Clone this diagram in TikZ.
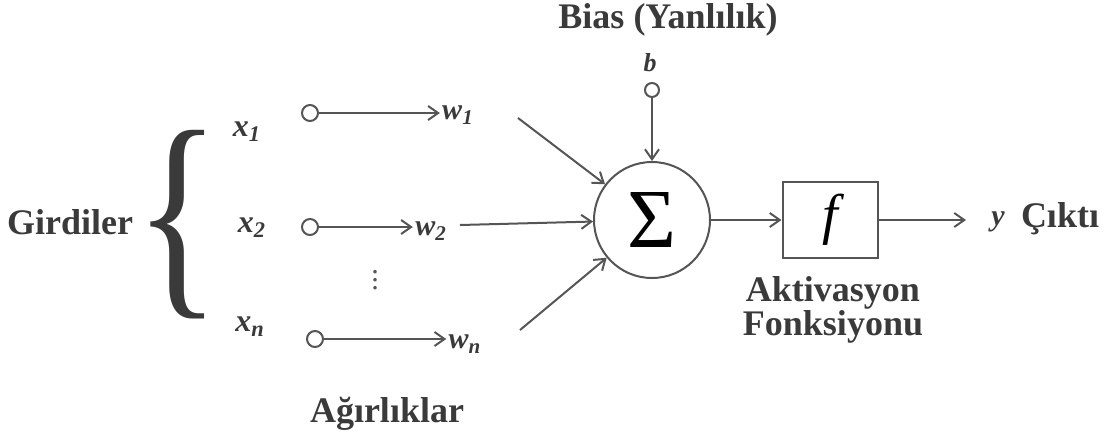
\documentclass[tikz,border=0pt]{standalone}
\usepackage{graphicx}
\usepackage{fontspec}
\setmainfont{Liberation Serif}
\usetikzlibrary{positioning, arrows.meta}
\definecolor{linegray}{HTML}{555555}
\definecolor{textgray}{HTML}{3A3A3A}
\tikzset{
  inpt/.style={circle, draw=linegray, line width=1pt, minimum size=8pt, inner sep=0pt},
  lbl/.style={text=textgray, inner sep=1pt, font=\fontsize{18}{15}\selectfont\bfseries},
  var/.style={text=textgray, inner sep=1pt, font=\fontsize{16}{18}\selectfont\bfseries\itshape},
  wvar/.style={var, font=\fontsize{15}{18}\selectfont\bfseries\itshape},
  wire/.style={draw=linegray, line width=1pt, -{Straight Barb[length=5pt,width=7pt]}},
}

\begin{document}
\begin{tikzpicture}[x=0.5pt, y=-0.5pt]
    \useasboundingbox (0,0) rectangle (1109,441);

    % inputs and brace
    \node[lbl] (inputs) at (70,222) {Girdiler};
    \node[text=textgray, inner sep=0pt] (brace) at (178,225)
        {\scalebox{1.5}[1.9]{\fontsize{60}{60}\selectfont\{}};

    \node[var] (x1) at (247,132) {x\textsubscript{1}};
    \node[var] (x2) at (252,228) {x\textsubscript{2}};
    \node[var] (xn) at (250,327) {x\textsubscript{n}};

    \node[inpt] (i1) at (310,113) {};
    \node[inpt] (i2) at (310,227) {};
    \node[inpt] (in) at (315,339) {};

    \node[wvar] (w1) at (458,115) {w\textsubscript{1}};
    \node[wvar] (w2) at (431,231) {w\textsubscript{2}};
    \node[wvar] (wn) at (465,344) {w\textsubscript{n}};
    \node[text=linegray, font=\fontsize{15}{15}\selectfont] (dots) at (375,274) {$\vdots$};

    \draw[wire] (i1) -- (i1 -| w1.west);
    \draw[wire] (i2) -- (i2 -| w2.west);
    \draw[wire] (in) -- (in -| wn.west);

    \node[lbl] (weights) at (387,414) {Ağırlıklar};

    % summation and bias
    \node[circle, draw=linegray, line width=1pt, minimum size=58pt, inner sep=0pt,
          font=\fontsize{42}{42}\selectfont] (sum) at (652,220) {Σ};
    \node[inpt, minimum size=7pt] (bc) at (652,90) {};
    \node[var, font=\fontsize{13}{15}\selectfont\bfseries\itshape] (b) at (650,63) {b};
    \node[lbl] (bias) at (668,20) {Bias (Yanlılık)};

    \coordinate (s1) at (518,118);
    \coordinate (s2) at (460,225);
    \coordinate (s3) at (520,330);
    \draw[wire] (s1) -- (sum);
    \draw[wire] (s2) -- (sum);
    \draw[wire] (s3) -- (sum);
    \draw[wire] (bc) -- (sum);

    % activation and output
    \node[draw=linegray, line width=1pt, minimum width=47.5pt, minimum height=38pt,
          font=\fontsize{28}{28}\selectfont\itshape] (act) at (830,220) {f};
    \node[lbl, align=center] (actname) at (833,310) {Aktivasyon\\Fonksiyonu};
    \draw[wire] (sum) -- (act);

    \coordinate (oend) at (966,220);
    \draw[wire] (act) -- (oend);
    \node[wvar] (yout) at (998,222) {y};
    \node[lbl] (out) at (1060,219) {Çıktı};
\end{tikzpicture}
\end{document}
